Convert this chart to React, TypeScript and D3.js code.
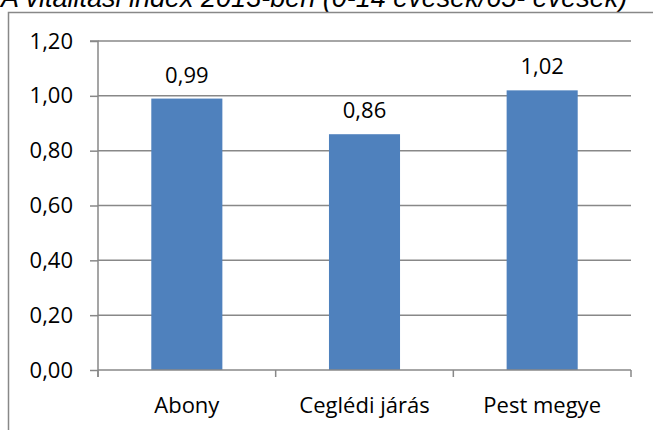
import React, { useRef, useEffect } from 'react';
import * as d3 from 'd3';

const categories = ['Abony', 'Ceglédi járás', 'Pest megye'];
const values = [0.99, 0.86, 1.02];
const yTicks = [0, 0.2, 0.4, 0.6, 0.8, 1.0, 1.2];
const title = 'A vitalitási index 2013-ben (0-14 évesek/65- évesek)';

const width = 653;
const height = 430;

const fmt = (v: number) => v.toFixed(2).replace('.', ',');

const App: React.FC = () => {
    const svgRef = useRef<SVGSVGElement | null>(null);

    useEffect(() => {
        const svg = d3.select(svgRef.current);
        svg.selectAll('*').remove();

        const font = "'Open Sans', Lato, sans-serif";
        const fontSize = 22;
        const gray = '#888888';

        // plot area
        const left = 98;
        const right = 631;
        const top = 41;
        const bottom = 370;

        const x = d3.scaleBand<string>()
            .domain(categories)
            .range([left, right])
            .paddingInner(0.6)
            .paddingOuter(0.3);

        const y = d3.scaleLinear()
            .domain([0, 1.2])
            .range([bottom, top]);

        // title, cut off at the top of the page
        svg.append('text')
            .attr('x', 1)
            .attr('y', 7)
            .attr('font-family', "'Liberation Sans', Arial, sans-serif")
            .attr('font-style', 'italic')
            .attr('font-size', 27)
            .attr('fill', '#000')
            .text(title);

        // chart frame (right and bottom edges run off the page)
        svg.append('path')
            .attr('d', `M8.5,${height + 2}V12.5H${width + 2}`)
            .attr('fill', 'none')
            .attr('stroke', gray)
            .attr('stroke-width', 1.5);

        // gridlines
        svg.append('g')
            .selectAll('line')
            .data(yTicks.filter(t => t > 0))
            .enter()
            .append('line')
            .attr('x1', left)
            .attr('x2', right)
            .attr('y1', d => y(d))
            .attr('y2', d => y(d))
            .attr('stroke', gray)
            .attr('stroke-width', 1.5);

        // y axis
        const yAxis = d3.axisLeft(y)
            .tickValues(yTicks)
            .tickSize(8)
            .tickPadding(17)
            .tickFormat(d => fmt(d as number));

        const gy = svg.append('g')
            .attr('transform', `translate(${left},0)`)
            .call(yAxis);
        gy.select('.domain').attr('stroke', gray).attr('stroke-width', 1.5)
            .attr('d', `M-8,${top}H0V${bottom + 7}`);
        gy.selectAll('.tick line').attr('stroke', gray).attr('stroke-width', 1.5);
        gy.selectAll('.tick text')
            .attr('font-family', font)
            .attr('font-size', fontSize)
            .attr('fill', '#000');

        // bars
        svg.append('g')
            .selectAll('rect')
            .data(values)
            .enter()
            .append('rect')
            .attr('x', (d, i) => x(categories[i]) as number)
            .attr('width', x.bandwidth())
            .attr('y', d => y(d))
            .attr('height', d => bottom - y(d))
            .attr('fill', '#4F81BD');

        // value labels
        svg.append('g')
            .selectAll('text')
            .data(values)
            .enter()
            .append('text')
            .attr('x', (d, i) => (x(categories[i]) as number) + x.bandwidth() / 2)
            .attr('y', d => y(d) - 16)
            .attr('text-anchor', 'middle')
            .attr('font-family', font)
            .attr('font-size', fontSize)
            .attr('fill', '#000')
            .text(d => fmt(d));

        // x axis line and category boundary ticks
        const step = (right - left) / categories.length;
        const bounds = d3.range(categories.length + 1).map(i => left + i * step);
        svg.append('line')
            .attr('x1', left)
            .attr('x2', right)
            .attr('y1', bottom)
            .attr('y2', bottom)
            .attr('stroke', gray)
            .attr('stroke-width', 1.5);
        svg.append('g')
            .selectAll('line')
            .data(bounds)
            .enter()
            .append('line')
            .attr('x1', d => d)
            .attr('x2', d => d)
            .attr('y1', bottom)
            .attr('y2', bottom + 7)
            .attr('stroke', gray)
            .attr('stroke-width', 1.5);

        // category labels
        svg.append('g')
            .selectAll('text')
            .data(categories)
            .enter()
            .append('text')
            .attr('x', d => (x(d) as number) + x.bandwidth() / 2)
            .attr('y', 413)
            .attr('text-anchor', 'middle')
            .attr('font-family', font)
            .attr('font-size', fontSize)
            .attr('fill', '#000')
            .text(d => d);
    }, []);

    return (
        <svg
            ref={svgRef}
            width={width}
            height={height}
            style={{ position: 'absolute', left: 0, top: 0, background: '#fff' }}
        ></svg>
    );
};

export default App;
